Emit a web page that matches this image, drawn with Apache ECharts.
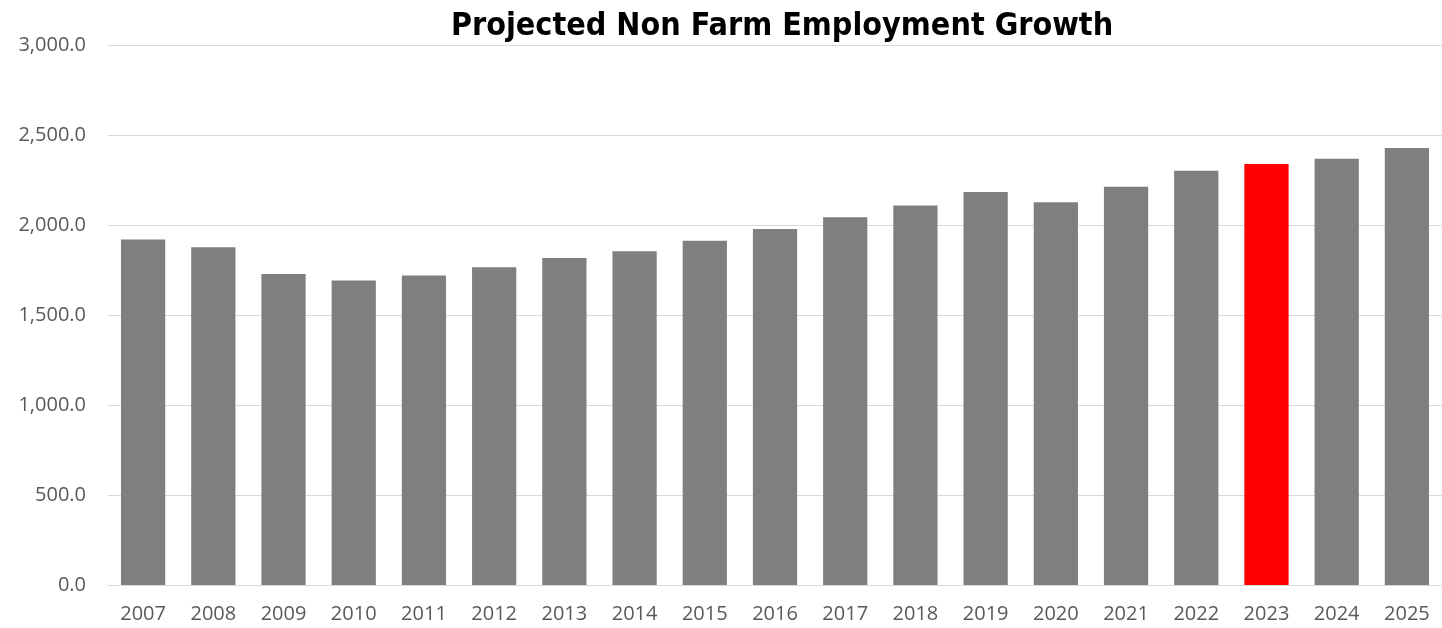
<!DOCTYPE html>
<html><head><meta charset="utf-8">
<script src="https://cdn.jsdelivr.net/npm/echarts@6/dist/echarts.min.js"></script>
<style>html,body{margin:0;padding:0;background:#fff}#c{width:1442px;height:628px}</style>
</head><body><div id="c"></div>
<script>
const years = ['2007','2008','2009','2010','2011','2012','2013','2014','2015','2016','2017','2018','2019','2020','2021','2022','2023','2024','2025'];
const employment = [1920,1876,1728,1691,1720,1765,1817,1854,1913,1978,2043,2109,2183,2126,2213,2302,2339,2368,2428];
const highlightYear = '2023';
const titleText = 'Projected Non Farm Employment Growth';

const chart = echarts.init(document.getElementById('c'));
chart.setOption({
  animation: false,
  title: {
    text: titleText, left: 777, top: 6, textAlign: 'center',
    textStyle: {fontFamily: '"Liberation Sans Narrow", "DejaVu Sans Condensed", Arial, sans-serif', fontWeight: 'bold', fontSize: 32, color: '#000'}
  },
  grid: {left: 108, right: 0, top: 45, bottom: 43, containLabel: false},
  xAxis: {
    type: 'category', data: years,
    axisLine: {show: true, lineStyle: {color: '#d9d9d9'}},
    axisTick: {show: false},
    axisLabel: {color: '#595959', fontSize: 20, fontFamily: '"Open Sans", sans-serif', margin: 19}
  },
  yAxis: {
    type: 'value', min: 0, max: 3000, interval: 500,
    axisLine: {show: false}, axisTick: {show: false},
    splitLine: {lineStyle: {color: '#d9d9d9'}},
    axisLabel: {color: '#595959', fontSize: 20, fontFamily: '"Open Sans", sans-serif', margin: 22,
      formatter: v => v.toLocaleString('en-US', {minimumFractionDigits: 1, maximumFractionDigits: 1})}
  },
  series: [{
    type: 'bar', barWidth: '63%',
    data: employment.map((v, i) => ({value: v, itemStyle: {color: years[i] === highlightYear ? '#ff0000' : '#7f7f7f'}}))
  }]
});
</script></body></html>
